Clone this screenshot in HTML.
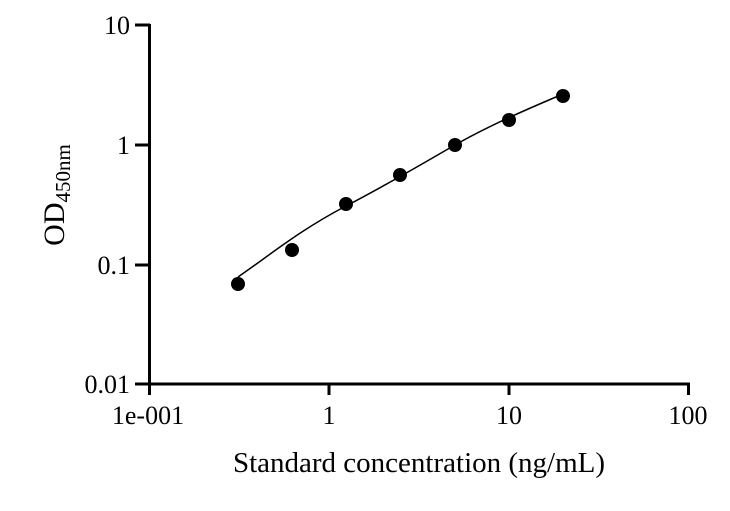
<!DOCTYPE html>
<html><head><style>body{margin:0;background:#fff}</style></head><body>
<svg width="730" height="506" xmlns="http://www.w3.org/2000/svg" style="font-family:'Liberation Serif',serif" fill="#000">
<g stroke="#000" stroke-width="3" fill="none">
<line x1="149.5" y1="24" x2="149.5" y2="395"/>
<line x1="148" y1="384" x2="690" y2="384"/>
<line x1="135" y1="25" x2="150" y2="25"/>
<line x1="135" y1="145" x2="150" y2="145"/>
<line x1="135" y1="265" x2="150" y2="265"/>
<line x1="135" y1="384" x2="150" y2="384"/>
<line x1="329" y1="384" x2="329" y2="395"/>
<line x1="509" y1="384" x2="509" y2="395"/>
<line x1="688.5" y1="384" x2="688.5" y2="395"/>
</g>
<path d="M238,277 C270,255 300,230 346,206 S420,165 455,145 S530,108 563,94" stroke="#000" stroke-width="1.5" fill="none"/>
<g>
<circle cx="238" cy="284" r="7"/>
<circle cx="292" cy="250" r="7"/>
<circle cx="346" cy="204" r="7"/>
<circle cx="400" cy="175" r="7"/>
<circle cx="455" cy="145" r="7"/>
<circle cx="509" cy="120" r="7"/>
<circle cx="563" cy="96" r="7"/>
</g>
<g font-size="26" text-anchor="end">
<text x="130" y="34">10</text>
<text x="130" y="154">1</text>
<text x="130" y="274">0.1</text>
<text x="130" y="393">0.01</text>
</g>
<g font-size="26" text-anchor="middle">
<text x="148" y="424">1e-001</text>
<text x="329" y="424">1</text>
<text x="509" y="424">10</text>
<text x="688" y="424">100</text>
<text x="419" y="472" font-size="29">Standard concentration (ng/mL)</text>
</g>
<text transform="translate(64,195) rotate(-90)" font-size="30" text-anchor="middle">OD<tspan font-size="21" dy="6">450nm</tspan></text>
</svg>
</body></html>
